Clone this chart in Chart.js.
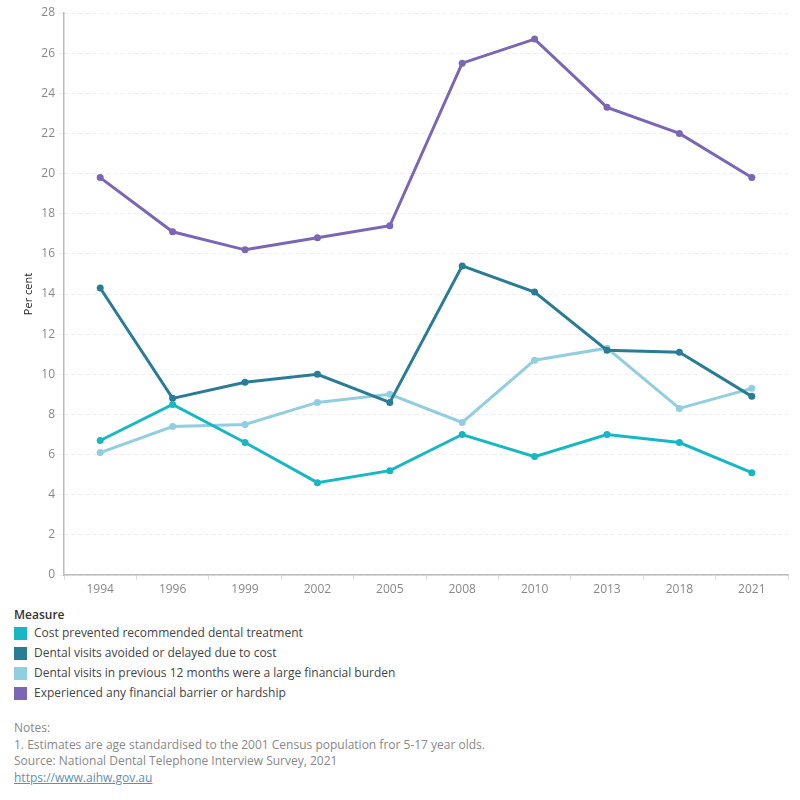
<!DOCTYPE html>
<html>
<head>
<meta charset="utf-8">
<script src="https://cdn.jsdelivr.net/npm/chart.js@4"></script>
<style>
  body { margin: 0; background: #fff; font-family: "Open Sans", sans-serif; }
  #wrap { position: absolute; left: 0; top: 0; width: 800px; height: 600px; }
  #legend { position: absolute; left: 14px; top: 606px; font-size: 12px; color: #444; }
  #legend .title { font-weight: 600; color: #333; margin-bottom: 0; }
  #legend .item { height: 20px; line-height: 20px; display: flex; align-items: center; }
  #legend .sw { width: 13px; height: 13px; margin-right: 7px; display: inline-block; }
  #notes { position: absolute; left: 14px; top: 720px; font-size: 12px; color: #888; line-height: 16.7px; }
  #notes a { color: #5b93ad; }
</style>
</head>
<body>
<div id="wrap"><canvas id="chart"></canvas></div>
<div id="legend"></div>
<div id="notes">
  Notes:<br>
  1. Estimates are age standardised to the 2001 Census population fror 5-17 year olds.<br>
  Source: National Dental Telephone Interview Survey, 2021<br>
  <a href="https://www.aihw.gov.au">https://www.aihw.gov.au</a>
</div>
<script>
const years = ['1994', '1996', '1999', '2002', '2005', '2008', '2010', '2013', '2018', '2021'];
const seriesNames = [
    'Cost prevented recommended dental treatment',
    'Dental visits avoided or delayed due to cost',
    'Dental visits in previous 12 months were a large financial burden',
    'Experienced any financial barrier or hardship'
];
const costPrevented = [6.7, 8.5, 6.6, 4.6, 5.2, 7.0, 5.9, 7.0, 6.6, 5.1];
const avoidedDelayed = [14.3, 8.8, 9.6, 10.0, 8.6, 15.4, 14.1, 11.2, 11.1, 8.9];
const financialBurden = [6.1, 7.4, 7.5, 8.6, 9.0, 7.6, 10.7, 11.3, 8.3, 9.3];
const anyBarrier = [19.8, 17.1, 16.2, 16.8, 17.4, 25.5, 26.7, 23.3, 22.0, 19.8];
const colors = ['#17b7c3', '#2a7c96', '#92cde0', '#7b66b6'];

const allData = [costPrevented, avoidedDelayed, financialBurden, anyBarrier];

// legend
const legend = document.getElementById('legend');
legend.innerHTML = '<div class="title">Measure</div>' + seriesNames.map(function(n, i) {
    return '<div class="item"><span class="sw" style="background:' + colors[i] + '"></span>' + n + '</div>';
}).join('');

const datasets = allData.map(function(d, i) {
    return {
        label: seriesNames[i],
        data: d,
        borderColor: colors[i],
        backgroundColor: colors[i],
        pointBackgroundColor: colors[i],
        pointBorderWidth: 0,
        pointRadius: 3.5,
        borderWidth: 3,
        tension: 0,
        order: i === 2 ? 4 : i
    };
});

const ctx = document.getElementById('chart').getContext('2d');
const chart = new Chart(ctx, {
    type: 'line',
    data: { labels: years, datasets: datasets },
    options: {
        responsive: true,
        maintainAspectRatio: false,
        animation: false,
        layout: { padding: { top: 13, right: 12, left: 22, bottom: 0 } },
        plugins: {
            legend: { display: false },
            tooltip: { enabled: false }
        },
        scales: {
            x: {
                offset: true,
                grid: {
                    offset: true,
                    drawOnChartArea: false,
                    drawTicks: true,
                    tickLength: 5,
                    color: '#dddddd'
                },
                border: { color: '#bbbbbb', width: 1.5 },
                ticks: {
                    color: '#888',
                    font: { family: 'Open Sans', size: 12 },
                    padding: 2,
                    maxRotation: 0
                },
                afterFit: function(s) { s.height = 25; }
            },
            y: {
                min: 0,
                max: 28,
                grid: {
                    color: '#eeeeee',
                    tickLength: 5,
                    tickColor: '#eeeeee'
                },
                border: { color: '#bbbbbb', width: 1.5, dash: [4, 3] },
                ticks: {
                    stepSize: 2,
                    color: '#888',
                    font: { family: 'Open Sans', size: 12 },
                    padding: 4
                },
                title: {
                    display: true,
                    text: 'Per cent',
                    color: '#222',
                    font: { family: 'Open Sans', size: 11 },
                    padding: { top: 0, bottom: 0 }
                },
                afterFit: function(s) { s.width = 42; }
            }
        }
    }
});
</script>
</body>
</html>
